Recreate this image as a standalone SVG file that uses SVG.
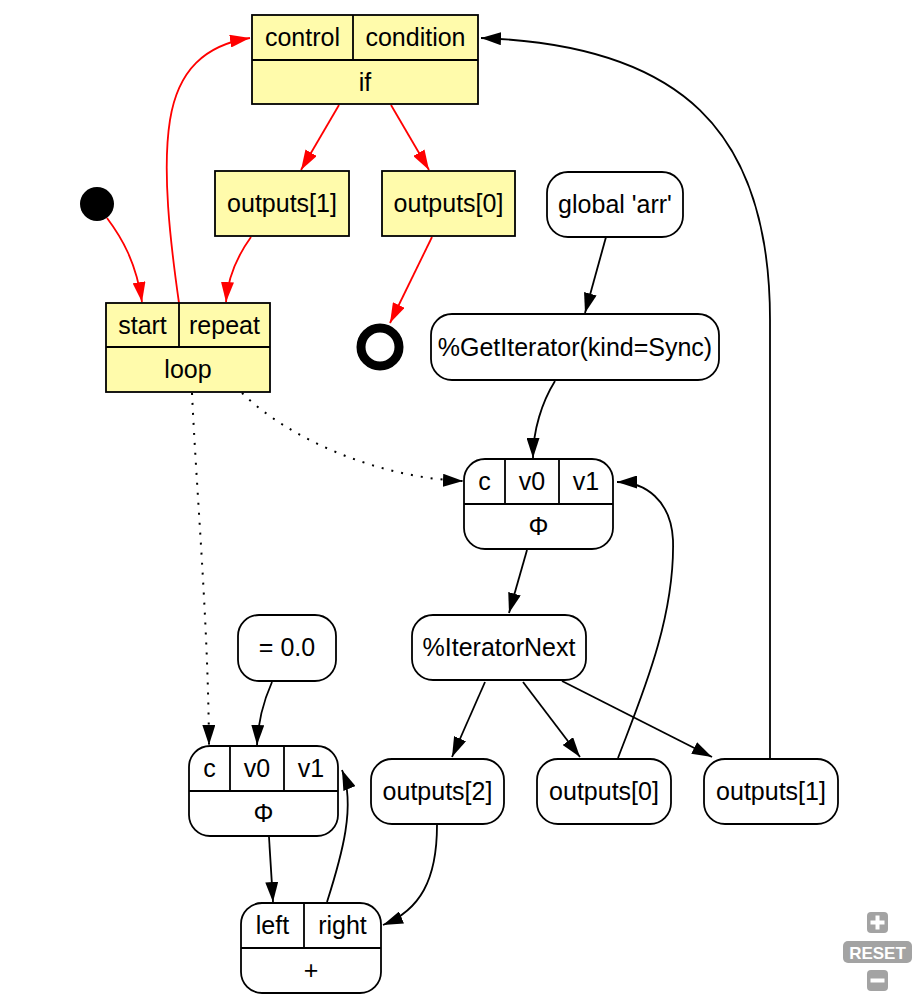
<svg xmlns="http://www.w3.org/2000/svg" width="920" height="1000" viewBox="0 0 920 1000">
<style>
text{font-family:"Liberation Sans",Arial,Helvetica,sans-serif;font-size:25px;fill:#000;text-anchor:middle}
.box{fill:#fffbab;stroke:#000;stroke-width:1.8}
.rnd{fill:#fff;stroke:#000;stroke-width:1.8}
.div{stroke:#000;stroke-width:1.8;fill:none}
.e{fill:none;stroke:#000;stroke-width:1.8}
.r{fill:none;stroke:#f00;stroke-width:1.8}
.dot{fill:none;stroke:#000;stroke-width:2;stroke-dasharray:2 8}
.ctl{fill:#a3a3a3}
.ctlt{fill:#fff;font-weight:bold;font-size:17px}
</style>
<defs>
<marker id="ab" viewBox="0 0 20 13" refX="20" refY="6.5" markerWidth="20" markerHeight="13" markerUnits="userSpaceOnUse" orient="auto"><path d="M0,0 L20,6.5 L0,13 z" fill="#000"/></marker>
<marker id="ar" viewBox="0 0 20 13" refX="20" refY="6.5" markerWidth="20" markerHeight="13" markerUnits="userSpaceOnUse" orient="auto"><path d="M0,0 L20,6.5 L0,13 z" fill="#f00"/></marker>
</defs>
<rect width="920" height="1000" fill="#fff"/>

<g id="connectors">
<path class="r" d="M107,218 C122,238 136,262 142,302" marker-end="url(#ar)"/>
<path class="r" d="M179,303 C170,240 162,170 170,120 C178,70 205,45 250,38" marker-end="url(#ar)"/>
<path class="r" d="M339,105 L301,170" marker-end="url(#ar)"/>
<path class="r" d="M391,105 L429,170" marker-end="url(#ar)"/>
<path class="r" d="M251,237 C238,255 228,275 226,302" marker-end="url(#ar)"/>
<path class="r" d="M432,237 L390,323" marker-end="url(#ar)"/>
<path class="e" d="M606,237 L585,313" marker-end="url(#ab)"/>
<path class="e" d="M555,381 C542,402 533,430 533,458" marker-end="url(#ab)"/>
<path class="dot" d="M242,393 C290,440 380,478 463,481" marker-end="url(#ab)"/>
<path class="dot" d="M192,393 C197,500 208,620 209,745" marker-end="url(#ab)"/>
<path class="e" d="M527,550 L509,613" marker-end="url(#ab)"/>
<path class="e" d="M485,682 L452,757" marker-end="url(#ab)"/>
<path class="e" d="M523,682 L580,757" marker-end="url(#ab)"/>
<path class="e" d="M562,681 L712,757" marker-end="url(#ab)"/>
<path class="e" d="M618,758 C640,700 675,620 673,540 C671,500 645,482 617,482" marker-end="url(#ab)"/>
<path class="e" d="M770,758 L770,320 C770,130 680,45 481,38" marker-end="url(#ab)"/>
<path class="e" d="M272,682 C264,700 258,720 257,745" marker-end="url(#ab)"/>
<path class="e" d="M269,837 L273,902" marker-end="url(#ab)"/>
<path class="e" d="M327,902 C342,855 356,805 342,770" marker-end="url(#ab)"/>
<path class="e" d="M437,825 C437,880 420,910 383,925" marker-end="url(#ab)"/>
</g>

<g id="start">
<circle cx="97" cy="204" r="17" fill="#000"/>
</g>

<g id="end">
<circle cx="380" cy="347" r="19" fill="none" stroke="#000" stroke-width="9"/>
</g>

<g id="if">
<rect class="box" x="252" y="15" width="226" height="89"/>
<path class="div" d="M252,60 H478 M353,15 V60"/>
<text x="302.5" y="46">control</text>
<text x="415.5" y="46">condition</text>
<text x="365" y="91">if</text>
</g>

<g id="if_out1">
<rect class="box" x="215" y="171" width="134" height="65"/>
<text x="282" y="212">outputs[1]</text>
</g>

<g id="if_out0">
<rect class="box" x="382" y="171" width="133" height="65"/>
<text x="448.5" y="212">outputs[0]</text>
</g>

<g id="loop">
<rect class="box" x="106" y="303" width="164" height="89"/>
<path class="div" d="M106,347 H270 M179,303 V347"/>
<text x="142.5" y="334">start</text>
<text x="224.5" y="334">repeat</text>
<text x="188" y="378">loop</text>
</g>

<g id="global_arr">
<rect class="rnd" x="547" y="172" width="136" height="65" rx="21"/>
<text x="615" y="213">global 'arr'</text>
</g>

<g id="get_iterator">
<rect class="rnd" x="431" y="314" width="288" height="66" rx="21"/>
<text x="575" y="356">%GetIterator(kind=Sync)</text>
</g>

<g id="phi_top">
<rect class="rnd" x="464" y="459" width="149" height="90" rx="21"/>
<path class="div" d="M464,504 H613 M505,459 V504 M559,459 V504"/>
<text x="484.5" y="490">c</text>
<text x="532" y="490">v0</text>
<text x="586" y="490">v1</text>
<text x="538.5" y="535">Φ</text>
</g>

<g id="iterator_next">
<rect class="rnd" x="412" y="615" width="174" height="65" rx="21"/>
<text x="499" y="656">%IteratorNext</text>
</g>

<g id="const_zero">
<rect class="rnd" x="238" y="615" width="98" height="66" rx="21"/>
<text x="287" y="656">= 0.0</text>
</g>

<g id="phi_bottom">
<rect class="rnd" x="189" y="746" width="149" height="90" rx="21"/>
<path class="div" d="M189,791 H338 M230,746 V791 M284,746 V791"/>
<text x="209.5" y="777">c</text>
<text x="257" y="777">v0</text>
<text x="311" y="777">v1</text>
<text x="263.5" y="822">Φ</text>
</g>

<g id="next_out2">
<rect class="rnd" x="371" y="759" width="133" height="65" rx="21"/>
<text x="437.5" y="800">outputs[2]</text>
</g>

<g id="next_out0">
<rect class="rnd" x="537" y="759" width="134" height="65" rx="21"/>
<text x="604" y="800">outputs[0]</text>
</g>

<g id="next_out1">
<rect class="rnd" x="704" y="759" width="134" height="65" rx="21"/>
<text x="771" y="800">outputs[1]</text>
</g>

<g id="plus">
<rect class="rnd" x="241" y="903" width="140" height="90" rx="21"/>
<path class="div" d="M241,948 H381 M304,903 V948"/>
<text x="272.5" y="934">left</text>
<text x="342.5" y="934">right</text>
<text x="311" y="979">+</text>
</g>

<g id="zoom_controls">
<rect class="ctl" x="867" y="912" width="21" height="21" rx="4"/>
<path d="M877.5,915.5 V929.5 M870.5,922.5 H884.5" stroke="#fff" stroke-width="4"/>
<rect class="ctl" x="843" y="941" width="69" height="22" rx="5"/>
<text class="ctlt" x="877.5" y="958.5">RESET</text>
<rect class="ctl" x="867" y="970" width="21" height="21" rx="4"/>
<path d="M870.5,980.5 H884.5" stroke="#fff" stroke-width="4"/>
</g>
</svg>
